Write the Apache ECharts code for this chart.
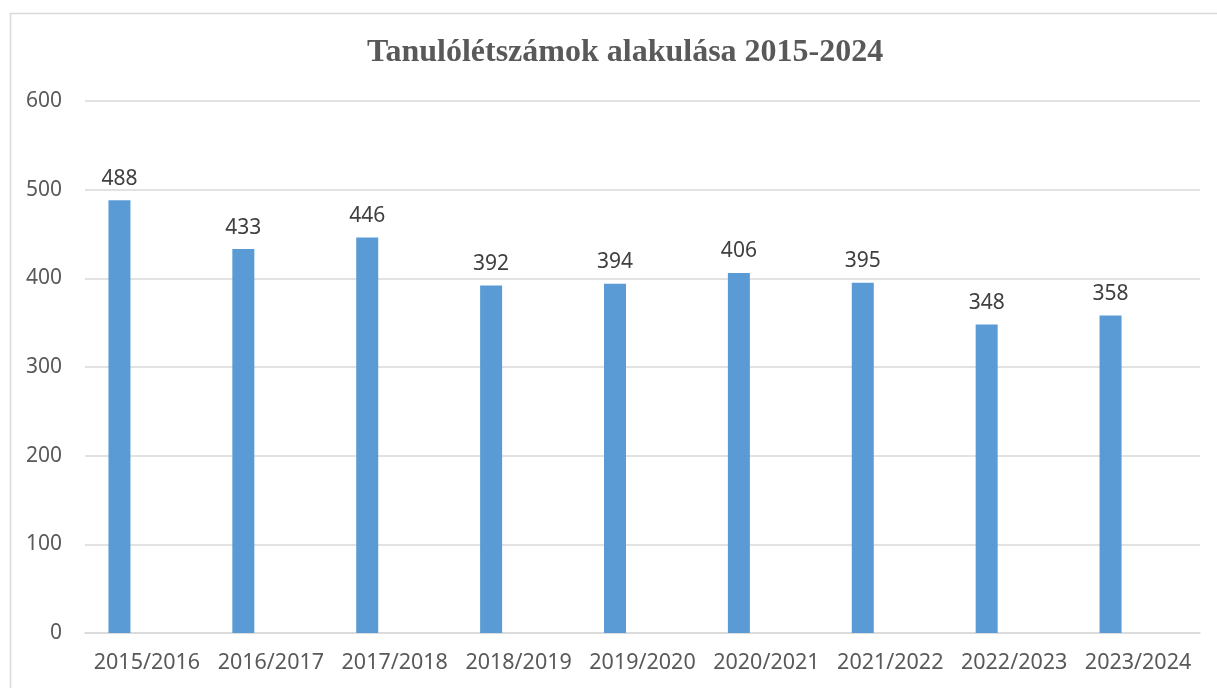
<!DOCTYPE html>
<html>
<head>
<meta charset="utf-8">
<script src="https://cdn.jsdelivr.net/npm/echarts@6/dist/echarts.min.js"></script>
<style>
  html, body { margin: 0; padding: 0; background: #fff; }
  #chart { width: 1217px; height: 688px; }
</style>
</head>
<body>
<div id="chart"></div>
<script>
// school years and pupil counts
var years = ['2015/2016', '2016/2017', '2017/2018', '2018/2019', '2019/2020',
             '2020/2021', '2021/2022', '2022/2023', '2023/2024'];
var pupils = [488, 433, 446, 392, 394, 406, 395, 348, 358];
var yTicks = [0, 100, 200, 300, 400, 500, 600];

const myChart = echarts.init(document.getElementById('chart'));

const option = {
    backgroundColor: '#fff',
    animation: false,
    title: {
        text: 'Tanulólétszámok alakulása 2015-2024',
        left: 362,
        top: 32,
        textStyle: {
            fontFamily: 'Liberation Serif',
            fontWeight: 'bold',
            fontSize: 32,
            color: '#595959'
        }
    },
    graphic: [{
        type: 'rect',
        left: 8,
        top: 11,
        shape: { width: 1230, height: 700 },
        style: { fill: 'none', stroke: '#d9d9d9', lineWidth: 1.5 },
        silent: true
    }],
    grid: {
        left: 85,
        right: 17,
        top: 101,
        bottom: 55
    },
    xAxis: {
        type: 'category',
        data: years,
        axisLine: { lineStyle: { color: '#d9d9d9', width: 1.5 } },
        axisTick: { show: false },
        axisLabel: {
            interval: 0,
            fontFamily: 'Noto Sans',
            fontSize: 21.5,
            color: '#595959',
            margin: 19
        }
    },
    yAxis: {
        type: 'value',
        min: yTicks[0],
        max: yTicks[yTicks.length - 1],
        interval: 100,
        axisLine: { show: false },
        axisTick: { show: false },
        splitLine: { lineStyle: { color: '#d9d9d9', width: 1.5 } },
        axisLabel: {
            fontFamily: 'Noto Sans',
            fontSize: 21,
            color: '#595959',
            margin: 23
        }
    },
    series: [
        {
            name: 'Tanulók',
            type: 'bar',
            data: pupils,
            barWidth: 22,
            barGap: '150%',
            itemStyle: { color: '#5b9bd5' },
            label: {
                show: true,
                position: 'top',
                distance: 11,
                fontFamily: 'Noto Sans',
                fontSize: 21,
                color: '#404040'
            }
        },
        {
            // empty second series, keeps the bars left of the category centre like the original
            name: '',
            type: 'bar',
            data: [],
            barWidth: 22
        }
    ]
};
myChart.setOption(option);
</script>
</body>
</html>
